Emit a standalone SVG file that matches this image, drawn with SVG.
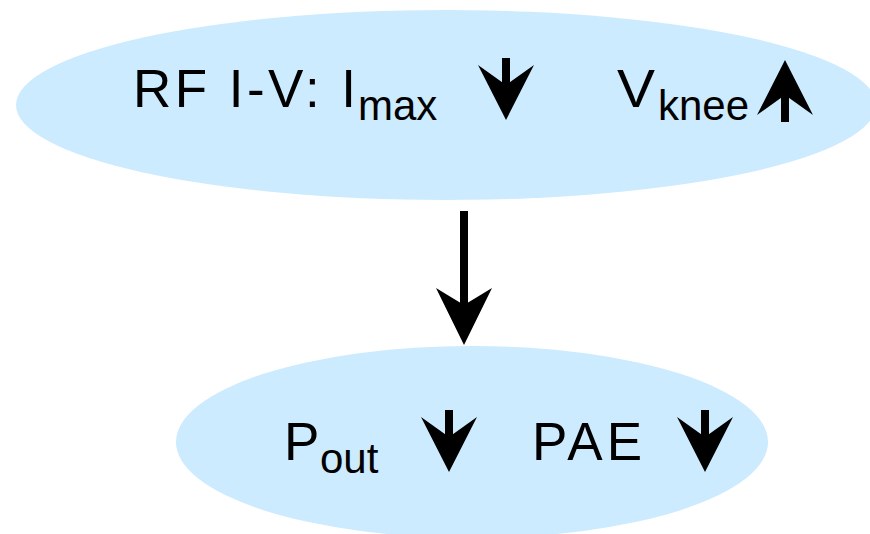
<svg xmlns="http://www.w3.org/2000/svg" xmlns:xlink="http://www.w3.org/1999/xlink" width="870" height="534" viewBox="0 0 870 534">
  <style>
    .node { fill: #CCEBFE; }
    .t { font-family: "Liberation Sans", Arial, sans-serif; font-size: 53px; fill: #000; }
    .sub { font-family: "Liberation Sans", Arial, sans-serif; font-size: 42px; fill: #000; }
    .ink { fill: #000; }
  </style>
  <defs>
    <!-- small trend arrow pointing down, origin at top of shaft -->
    <g id="trend">
      <rect x="-4" y="0" width="8" height="30" class="ink"/>
      <polygon points="-28,7 0,27 28,7 0,62" class="ink"/>
    </g>
  </defs>

  <rect width="870" height="534" fill="#fff"/>

  <g id="rf-iv">
    <ellipse class="node" cx="446" cy="105" rx="430" ry="95"/>
    <text class="t" x="133" y="107" textLength="223" lengthAdjust="spacing">RF I-V: I</text>
    <text class="sub" x="358" y="120">max</text>
    <use xlink:href="#trend" transform="translate(506,58)"/>
    <text class="t" x="617" y="107" textLength="38" lengthAdjust="spacingAndGlyphs">V</text>
    <text class="sub" x="658" y="120">knee</text>
    <use xlink:href="#trend" transform="translate(785,122) rotate(180)"/>
  </g>

  <g id="performance">
    <ellipse class="node" cx="472" cy="442" rx="296" ry="96"/>
    <text class="t" x="284" y="460">P</text>
    <text class="sub" x="320" y="473">out</text>
    <use xlink:href="#trend" transform="translate(449,410)"/>
    <text class="t" x="532" y="460" textLength="110" lengthAdjust="spacing">PAE</text>
    <use xlink:href="#trend" transform="translate(705,410)"/>
  </g>

  <g id="connectors">
    <line x1="464" y1="211" x2="464" y2="305" stroke="#000" stroke-width="8"/>
    <polygon points="436,288 464,305 492,288 464,345" class="ink"/>
  </g>
</svg>
